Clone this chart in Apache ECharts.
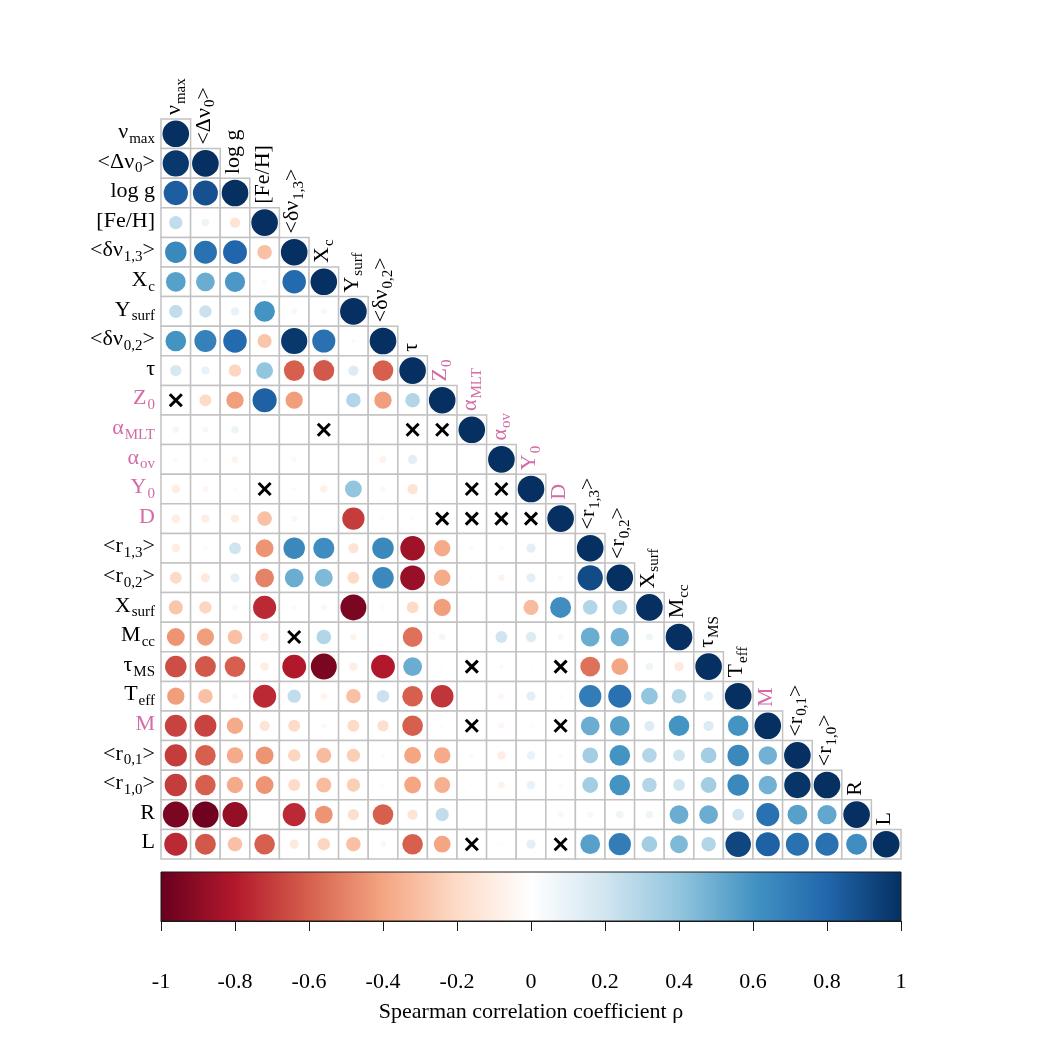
<!DOCTYPE html>
<html>
<head>
<meta charset="utf-8">
<script src="https://cdn.jsdelivr.net/npm/echarts@6/dist/echarts.min.js"></script>
<style>
  html, body { margin: 0; padding: 0; background: #fff; }
  #chart { width: 1050px; height: 1050px; }
</style>
</head>
<body>
<div id="chart"></div>
<script>
  // variable names: main text, subscript, closing text
  const labelMain = ['ν', '<Δν', 'log g', '[Fe/H]', '<δν', 'X', 'Y', '<δν', 'τ', 'Z', 'α', 'α', 'Y', 'D',
    '<r', '<r', 'X', 'M', 'τ', 'T', 'M', '<r', '<r', 'R', 'L']
  const labelSub = ['max', '0', '', '', '1,3', 'c', 'surf', '0,2', '', '0', 'MLT', 'ov', '0', '',
    '1,3', '0,2', 'surf', 'cc', 'MS', 'eff', '', '0,1', '1,0', '', '']
  const labelEnd = ['', '>', '', '', '>', '', '', '>', '', '', '', '', '', '',
    '>', '>', '', '', '', '', '', '>', '>', '', '']
  // model input parameters (drawn in pink)
  const inputParams = [9, 10, 11, 12, 13, 20]

  // lower triangle of Spearman rho, row by row; null = not significant (cross)
  const rho = [
    [1],
    [0.97, 1],
    [0.83, 0.88, 1],
    [0.25, 0.08, -0.15, 1],
    [0.65, 0.75, 0.8, -0.3, 1],
    [0.55, 0.5, 0.58, 0.04, 0.78, 1],
    [0.25, 0.22, 0.1, 0.6, 0.05, 0.05, 1],
    [0.6, 0.68, 0.78, -0.28, 0.97, 0.75, 0.03, 1],
    [0.18, 0.1, -0.22, 0.4, -0.6, -0.62, 0.15, -0.6, 1],
    [null, -0.2, -0.42, 0.82, -0.42, 0.01, 0.3, -0.42, 0.3, 1],
    [0.06, 0.05, 0.08, 0.01, 0.01, null, 0.01, 0.01, null, null, 1],
    [-0.03, -0.03, -0.06, 0.01, -0.04, 0.005, 0.01, -0.07, 0.12, 0.01, 0.01, 1],
    [-0.1, -0.05, -0.03, null, 0.03, -0.08, 0.4, 0.04, -0.15, 0.01, null, null, 1],
    [-0.1, -0.1, -0.1, -0.3, -0.05, 0.01, -0.7, -0.03, -0.03, null, null, null, null, 1],
    [-0.1, -0.03, 0.2, -0.45, 0.65, 0.63, -0.15, 0.65, -0.85, -0.38, -0.03, -0.03, 0.12, 0.01, 1],
    [-0.2, -0.12, 0.12, -0.5, 0.5, 0.45, -0.2, 0.65, -0.87, -0.38, -0.02, -0.06, 0.12, 0.04, 0.9, 1],
    [-0.28, -0.22, -0.05, -0.75, 0.03, -0.05, -0.95, 0.03, -0.2, -0.42, -0.01, -0.01, -0.32, 0.62, 0.3, 0.3, 1],
    [-0.45, -0.42, -0.3, -0.1, null, 0.3, -0.06, 0.01, -0.55, 0.06, 0.01, 0.2, 0.15, 0.05, 0.5, 0.48, 0.07, 1],
    [-0.65, -0.62, -0.6, -0.1, -0.8, -0.95, -0.1, -0.8, 0.5, -0.02, null, 0.03, 0.02, null, -0.55, -0.4, 0.08, -0.12, 1],
    [-0.42, -0.3, 0.05, -0.75, 0.25, -0.06, -0.3, 0.22, -0.6, -0.72, 0.02, -0.05, 0.12, -0.03, 0.7, 0.75, 0.4, 0.3, 0.12, 1],
    [-0.68, -0.68, -0.38, -0.15, -0.2, -0.04, -0.2, -0.18, -0.6, 0.02, null, -0.05, 0.02, null, 0.5, 0.55, 0.15, 0.6, 0.15, 0.6, 1],
    [-0.7, -0.6, -0.38, -0.45, -0.22, -0.32, -0.25, -0.03, -0.4, -0.38, -0.03, -0.1, 0.1, 0.03, 0.35, 0.6, 0.3, 0.2, 0.35, 0.65, 0.48, 1],
    [-0.7, -0.6, -0.38, -0.45, -0.2, -0.32, -0.25, -0.03, -0.4, -0.36, -0.02, -0.07, 0.1, 0.03, 0.35, 0.6, 0.3, 0.2, 0.35, 0.65, 0.48, 0.98, 1],
    [-0.95, -0.98, -0.88, 0.01, -0.75, -0.45, -0.18, -0.6, -0.15, 0.25, -0.02, 0.01, 0.01, 0.05, 0.05, 0.08, 0.08, 0.5, 0.5, 0.2, 0.75, 0.55, 0.52, 1],
    [-0.75, -0.62, -0.3, -0.6, -0.12, -0.22, -0.3, -0.05, -0.6, -0.4, null, -0.02, 0.12, null, 0.55, 0.7, 0.35, 0.45, 0.3, 0.92, 0.82, 0.75, 0.75, 0.62, 1]
  ]

  const colorTicks = [-1, -0.8, -0.6, -0.4, -0.2, 0, 0.2, 0.4, 0.6, 0.8, 1]
  const palette = ['#67001F', '#B2182B', '#D6604D', '#F4A582', '#FDDBC7', '#FFFFFF',
    '#D1E5F0', '#92C5DE', '#4393C3', '#2166AC', '#053061']

  const FONT = 'Liberation Serif'
  const PINK = '#d46aa6'

  const cells = []
  rho.forEach((row, i) => {
    row.forEach((v, j) => {
      cells.push([j, i, v === null ? 0 : v, v === null ? 1 : 0])
    })
  })
  const diag = labelMain.map((_, i) => [i, i])

  const rich = {
    m: { fontSize: 22, fontFamily: FONT, lineHeight: 25, verticalAlign: 'top', color: '#000', fill: '#000' },
    s: { fontSize: 15, fontFamily: FONT, lineHeight: 15, padding: [10, 0, 0, 1], verticalAlign: 'top', color: '#000', fill: '#000' },
    pm: { fontSize: 22, fontFamily: FONT, lineHeight: 25, verticalAlign: 'top', color: PINK, fill: PINK },
    ps: { fontSize: 15, fontFamily: FONT, lineHeight: 15, padding: [10, 0, 0, 1], verticalAlign: 'top', color: PINK, fill: PINK }
  }

  function richLabel(i) {
    const p = inputParams.includes(i) ? 'p' : ''
    let t = '{' + p + 'm|' + labelMain[i] + '}'
    if (labelSub[i]) t += '{' + p + 's|' + labelSub[i] + '}'
    if (labelEnd[i]) t += '{' + p + 'm|' + labelEnd[i] + '}'
    return t
  }

  const chart = echarts.init(document.getElementById('chart'))
  chart.setOption({
    backgroundColor: '#fff',
    animation: false,
    grid: [
      { left: 161, top: 119, width: 740, height: 740 },
      {
        left: 161, top: 872, width: 740, height: 49,
        show: true,
        borderColor: '#1a1a1a',
        borderWidth: 1,
        backgroundColor: new echarts.graphic.LinearGradient(0, 0, 1, 0,
          palette.map((c, i) => ({ offset: i / (palette.length - 1), color: c })))
      }
    ],
    xAxis: [
      {
        gridIndex: 0,
        type: 'category',
        data: labelMain.map((_, i) => i),
        show: false
      },
      {
        gridIndex: 1,
        type: 'value',
        min: colorTicks[0],
        max: colorTicks[colorTicks.length - 1],
        interval: 0.2,
        position: 'bottom',
        axisLine: { show: true, lineStyle: { color: '#1a1a1a' } },
        axisTick: { show: true, length: 10, lineStyle: { color: '#1a1a1a' } },
        axisLabel: { fontSize: 22, fontFamily: FONT, color: '#000', margin: 50 },
        splitLine: { show: false },
        name: 'Spearman correlation coefficient ρ',
        nameLocation: 'middle',
        nameGap: 80,
        nameTextStyle: { fontSize: 22, fontFamily: FONT, color: '#000' }
      }
    ],
    yAxis: [
      {
        gridIndex: 0,
        type: 'category',
        inverse: true,
        data: labelMain.map((_, i) => i),
        axisLine: { show: false },
        axisTick: { show: false },
        splitLine: { show: false },
        axisLabel: {
          interval: 0,
          margin: 6,
          formatter: (v, i) => richLabel(i),
          rich: rich
        }
      },
      { gridIndex: 1, type: 'value', show: false }
    ],
    visualMap: {
      type: 'continuous',
      show: false,
      min: -1,
      max: 1,
      dimension: 2,
      seriesIndex: 0,
      inRange: { color: palette }
    },
    series: [
      {
        type: 'custom',
        xAxisIndex: 0,
        yAxisIndex: 0,
        data: cells,
        encode: { x: 0, y: 1 },
        renderItem: function (params, api) {
          const c = api.coord([api.value(0), api.value(1)])
          const s = api.size([1, 1])
          const v = api.value(2)
          const insig = api.value(3)
          const children = [{
            type: 'rect',
            shape: { x: c[0] - s[0] / 2, y: c[1] - s[1] / 2, width: s[0], height: s[1] },
            style: { fill: '#fff', stroke: '#c2c2c2', lineWidth: 1.5 }
          }]
          if (insig) {
            const d = 6
            children.push({
              type: 'line',
              shape: { x1: c[0] - d, y1: c[1] - d, x2: c[0] + d, y2: c[1] + d },
              style: { stroke: '#000', lineWidth: 3 }
            }, {
              type: 'line',
              shape: { x1: c[0] - d, y1: c[1] + d, x2: c[0] + d, y2: c[1] - d },
              style: { stroke: '#000', lineWidth: 3 }
            })
          } else {
            children.push({
              type: 'circle',
              shape: { cx: c[0], cy: c[1], r: 0.45 * s[0] * Math.sqrt(Math.abs(v)) },
              style: { fill: api.visual('color') }
            })
          }
          return { type: 'group', children: children }
        }
      },
      {
        // column names written above the diagonal
        type: 'custom',
        xAxisIndex: 0,
        yAxisIndex: 0,
        data: diag,
        encode: { x: 0, y: 1 },
        renderItem: function (params, api) {
          const i = params.dataIndex
          const c = api.coord([api.value(0), api.value(1)])
          const s = api.size([1, 1])
          return {
            type: 'text',
            x: c[0],
            y: c[1] - s[1] / 2 - 4,
            rotation: Math.PI / 2,
            style: {
              text: richLabel(i),
              rich: rich,
              align: 'left',
              verticalAlign: 'middle'
            }
          }
        }
      }
    ]
  })
</script>
</body>
</html>
